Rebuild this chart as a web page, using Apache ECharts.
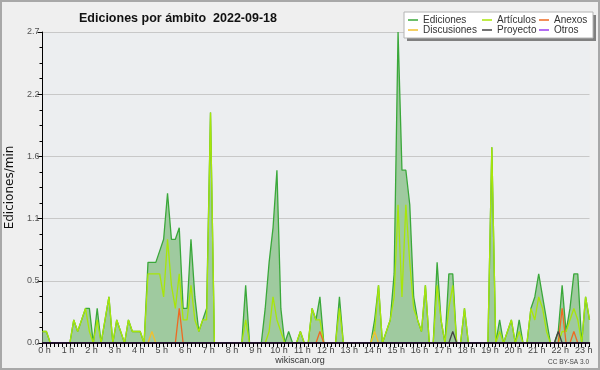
<!DOCTYPE html>
<html><head><meta charset="utf-8">
<script src="https://cdn.jsdelivr.net/npm/echarts@6/dist/echarts.min.js"></script>
<style>html,body{margin:0;padding:0;background:#efefef}#c{width:600px;height:370px}</style>
</head><body><div id="c"></div>
<script>
const hourLabels = ['0 h','1 h','2 h','3 h','4 h','5 h','6 h','7 h','8 h','9 h','10 h','11 h',
  '12 h','13 h','14 h','15 h','16 h','17 h','18 h','19 h','20 h','21 h','22 h','23 h'];

// one value every 10 minutes, 0:00 .. 23:20 (edits per minute)
const ediciones = [
  0.1,0.1,0,0,0,0,0,0,0.2,0.1,
  0.2,0.3,0.3,0,0.3,0,0.2,0.4,0,0.2,
  0.1,0,0.2,0.1,0.1,0.1,0,0.7,0.7,0.7,
  0.8,0.9,1.3,0.9,0.9,1.0,0.3,0.3,0.9,0.4,
  0.1,0.2,0.3,2.0,0,0,0,0,0,0,
  0,0,0.5,0,0,0,0,0.3,0.7,1.0,
  1.5,0.3,0,0.1,0,0,0.1,0,0,0.3,
  0.2,0.4,0,0,0,0,0.4,0,0,0,
  0,0,0,0,0,0.2,0.5,0,0.1,0.2,
  0.6,2.7,1.5,1.5,1.2,0.4,0.2,0.1,0.5,0,
  0,0.7,0.2,0,0.6,0.6,0,0,0.3,0,
  0,0,0,0,0,1.7,0,0.2,0,0.1,
  0.2,0,0.2,0,0,0.3,0.4,0.6,0.4,0.2,
  0,0,0.1,0.5,0.1,0.3,0.6,0.6,0,0.4,
  0.2
];
const articulos = [
  0.1,0.1,0,0,0,0,0,0,0.2,0.1,
  0.2,0.3,0.1,0,0.2,0,0.2,0.4,0,0.2,
  0.1,0,0.2,0.1,0.1,0.1,0,0.6,0.6,0.6,
  0.6,0.4,0.9,0.5,0.3,0.6,0.2,0.2,0.5,0.2,
  0.1,0.2,0.2,2.0,0,0,0,0,0,0,
  0,0,0.2,0,0,0,0,0,0.1,0.4,
  0.2,0.1,0,0,0,0,0.1,0,0,0.3,
  0.2,0.2,0,0,0,0,0.3,0,0,0,
  0,0,0,0,0,0.1,0.5,0,0.1,0.2,
  0.4,1.2,0.4,1.2,0.7,0.3,0.2,0.1,0.5,0,
  0,0.5,0.2,0,0.3,0.5,0,0,0.3,0,
  0,0,0,0,0,1.7,0,0.1,0,0.1,
  0.2,0,0.1,0,0,0.3,0.2,0.4,0.3,0.1,
  0,0,0,0.1,0.1,0.2,0.3,0.2,0,0.4,
  0.2
];
const anexos = [
  0,0,0,0,0,0,0,0,0,0,
  0,0,0,0,0,0,0,0,0,0,
  0,0,0,0,0,0,0,0,0,0,
  0,0,0,0,0,0.3,0,0,0,0,
  0,0,0,0,0,0,0,0,0,0,
  0,0,0,0,0,0,0,0,0,0,
  0,0,0,0,0,0,0,0,0,0,
  0,0.1,0,0,0,0,0,0,0,0,
  0,0,0,0,0,0,0,0,0,0,
  0,0,0,0,0,0,0,0,0,0,
  0,0,0,0,0,0,0,0,0,0,
  0,0,0,0,0,0,0,0,0,0,
  0,0,0,0,0,0,0,0,0,0,
  0,0,0,0.3,0,0,0.1,0,0,0,
  0
];
const discusiones = [
  0,0,0,0,0,0,0,0,0,0,
  0,0,0,0,0,0,0,0,0,0,
  0,0,0,0,0,0,0,0,0.1,0,
  0,0,0,0,0,0,0,0,0,0,
  0,0,0,0,0,0,0,0,0,0,
  0,0,0,0,0,0,0,0,0,0,
  0,0,0,0,0,0,0,0,0,0,
  0,0,0,0,0,0,0,0,0,0,
  0,0,0,0,0,0.1,0,0,0,0,
  0,0,0,0,0,0,0,0,0,0,
  0,0,0,0,0,0,0,0,0,0,
  0,0,0,0,0,0,0,0,0,0,
  0,0,0,0,0,0,0,0,0,0,
  0,0,0,0,0,0,0,0,0,0,
  0
];
const proyecto = [
  0,0,0,0,0,0,0,0,0,0,
  0,0,0,0,0,0,0,0,0,0,
  0,0,0,0,0,0,0,0,0,0,
  0,0,0,0,0,0,0,0,0,0,
  0,0,0,0,0,0,0,0,0,0,
  0,0,0,0,0,0,0,0,0,0,
  0,0,0,0,0,0,0,0,0,0,
  0,0,0,0,0,0,0,0,0,0,
  0,0,0,0,0,0,0,0,0,0,
  0,0,0,0,0,0,0,0,0,0,
  0,0,0,0,0,0.1,0,0,0,0,
  0,0,0,0,0,0,0,0,0,0,
  0,0,0,0,0,0,0,0,0,0,
  0,0,0.1,0,0,0,0,0,0,0,
  0
];
const otros = [
  0,0,0,0,0,0,0,0,0,0,
  0,0,0,0,0,0,0,0,0,0,
  0,0,0,0,0,0,0,0,0,0,
  0,0,0,0,0,0,0,0,0,0,
  0,0,0,0,0,0,0,0,0,0,
  0,0,0,0,0,0,0,0,0,0,
  0,0,0,0,0,0,0,0,0,0,
  0,0,0,0,0,0,0,0,0,0,
  0,0,0,0,0,0,0,0,0,0,
  0,0,0,0,0,0,0,0,0,0,
  0,0,0,0,0,0,0,0,0,0,
  0,0,0,0,0,0,0,0,0,0,
  0,0,0,0,0,0,0,0,0,0,
  0,0,0,0,0,0,0,0,0,0,
  0
];

// category for every 10-minute slot
const categories = [];
for (let i = 0; i < ediciones.length; i++) {
  const h = Math.floor(i / 6), m = (i % 6) * 10;
  categories.push(h + ':' + (m < 10 ? '0' : '') + m);
}

const chart = echarts.init(document.getElementById('c'), null, {renderer: 'canvas'});

const legendCommon = {
  orient: 'vertical', icon: 'rect', itemWidth: 10, itemHeight: 1.5, itemGap: 0, padding: 0,
  selectedMode: false, z: 20,
  textStyle: {fontFamily: 'Liberation Sans', fontSize: 10, color: '#333', lineHeight: 9}
};

function lineSeries(name, data, color, extra) {
  return Object.assign({
    name: name, type: 'line', data: data, symbol: 'none', showSymbol: false,
    color: color, lineStyle: {width: 1.3, color: color}, silent: true
  }, extra || {});
}

chart.setOption({
  backgroundColor: '#efefef',
  animation: false,
  title: {
    text: 'Ediciones por ámbito  2022-09-18', left: 74, top: 7,
    textStyle: {fontFamily: 'Liberation Sans', fontWeight: 'bold', fontSize: 12.5, color: '#111'}
  },
  grid: {left: 42.5, right: 10.5, top: 32, bottom: 27, show: true, backgroundColor: '#eceef0', borderWidth: 0,
    containLabel: false, outerBoundsMode: 'none'},
  xAxis: {
    type: 'category', data: categories, boundaryGap: false, z: 10,
    axisLine: {lineStyle: {color: '#000', width: 1.5}},
    axisTick: {interval: 0, length: 4, lineStyle: {color: '#000'}},
    axisLabel: {
      interval: 5, formatter: function (v, idx) { return hourLabels[idx / 6] || ''; },
      fontFamily: 'Liberation Sans', fontSize: 9, color: '#444', margin: 3, padding: [0, 0, 0, 4]
    },
    splitLine: {show: false}
  },
  yAxis: {
    type: 'value', min: 0, max: 2.7, interval: 0.54,
    name: 'Ediciones/min', nameLocation: 'middle', nameGap: 26,
    nameTextStyle: {fontFamily: 'DejaVu Sans', fontSize: 12, color: '#111'},
    axisLine: {show: true, lineStyle: {color: '#000'}},
    axisTick: {show: true, length: 5, lineStyle: {color: '#000'}},
    minorTick: {show: true, splitNumber: 4, length: 3, lineStyle: {color: '#000'}},
    axisLabel: {formatter: function (v) { return v.toFixed(1); }, fontFamily: 'Liberation Sans', fontSize: 9, color: '#555', margin: 3},
    splitLine: {lineStyle: {color: '#c8c8c8'}}
  },
  legend: [
    Object.assign({data: ['Ediciones', 'Discusiones'], left: 408, top: 15}, legendCommon),
    Object.assign({data: ['Artículos', 'Proyecto'], left: 482, top: 15}, legendCommon),
    Object.assign({data: ['Anexos', 'Otros'], left: 539, top: 15}, legendCommon)
  ],
  graphic: [
    {type: 'rect', z: 1, shape: {x: 1, y: 1, width: 598, height: 368}, style: {fill: 'none', stroke: '#a8a8a8', lineWidth: 2}},
    {type: 'rect', z: 15, shape: {x: 407, y: 15, width: 189, height: 26}, style: {fill: '#808080'}},
    {type: 'rect', z: 16, shape: {x: 404, y: 12, width: 189, height: 26}, style: {fill: '#ffffff', stroke: '#b4b4b4', lineWidth: 1}},
    {type: 'text', z: 5, x: 300, y: 361, style: {text: 'wikiscan.org', fontFamily: 'Liberation Sans', fontSize: 9, fill: '#333', align: 'center', verticalAlign: 'middle'}},
    {type: 'text', z: 5, x: 589, y: 362, style: {text: 'CC BY-SA 3.0', fontFamily: 'Liberation Sans', fontSize: 6.5, fill: '#444', align: 'right', verticalAlign: 'middle'}}
  ],
  series: [
    lineSeries('Ediciones', ediciones, '#3aa83a', {areaStyle: {color: '#9fca9f', opacity: 1}}),
    lineSeries('Artículos', articulos, '#a8e60a'),
    lineSeries('Anexos', anexos, '#ee6a22'),
    lineSeries('Discusiones', discusiones, '#f0c030'),
    lineSeries('Proyecto', proyecto, '#444444'),
    lineSeries('Otros', otros, '#9a3cf0')
  ]
});
</script>
</body></html>
